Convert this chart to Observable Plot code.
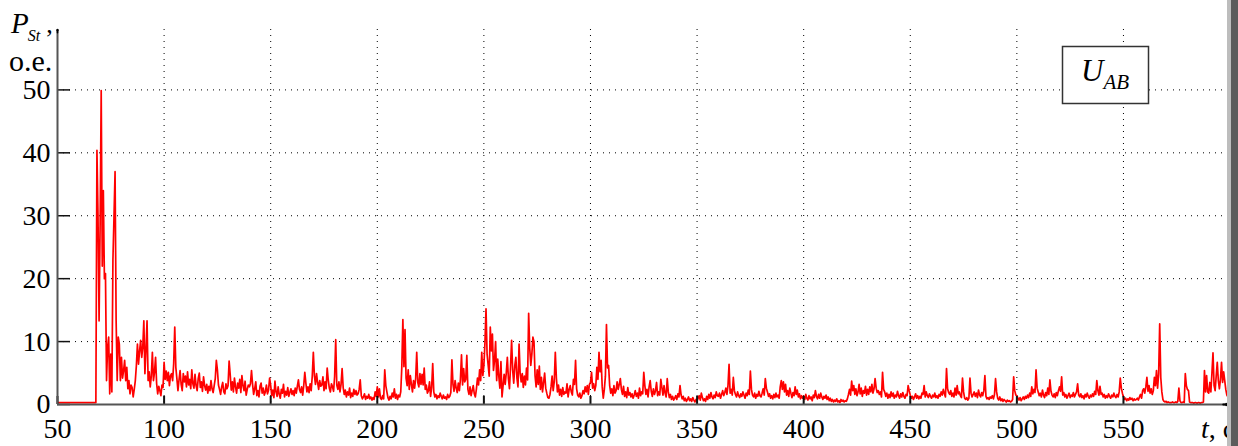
<!DOCTYPE html>
<html><head><meta charset="utf-8">
<script src="https://cdn.jsdelivr.net/npm/d3@7"></script>
<script src="https://cdn.jsdelivr.net/npm/@observablehq/plot@0.6"></script>
<style>
html,body{margin:0;padding:0;background:#fff;}
#chart{position:relative;width:1238px;height:446px;overflow:hidden;}
#chart svg{position:absolute;left:0;top:0;}
.edge1{position:absolute;left:1227px;top:0;width:4px;height:446px;background:#bdbdbd;}
.edge2{position:absolute;left:1231px;top:0;width:7px;height:446px;background:#5c5c5c;}
</style></head><body><div id="chart"></div>
<script>
// start time (s) of each 10-second block of samples, 0.5 s apart
const segmentStarts = [50,60,70,80,90,100,110,120,130,140,150,160,170,180,190,200,210,220,230,240,250,260,270,280,290,300,310,320,330,340,350,360,370,380,390,400,410,420,430,440,450,460,470,480,490,500,510,520,530,540,550,560,570,580,590];
const sampleStep = 0.5;
// P_St values (o.e.)
const segmentValues = [
[0.3,0.3,0.3,0.3,0.3,0.3,0.3,0.3,0.3,0.3,0.3,0.3,0.3,0.3,0.3,0.3,0.3,0.3,0.3,0.3],
[0.3,0.3,0.3,0.3,0.3,0.3,0.3,0.3,0.3,0.3,0.3,0.3,0.3,0.3,0.3,0.3,0.3,40.4,30,13.3],
[28.7,49.9,22,34,20,20.8,3.8,9.1,10.7,1.7,8,2,23,29.8,37,13.3,3.8,10.7,9.6,3.8],
[7.5,4.2,5.4,7,3.8,5.9,2.5,3.8,1.7,3.1,2.7,1.2,2.4,3.8,6.2,9.6,6.4,8.5,10.2,7.5],
[9.1,13.3,4.9,8.7,13.3,3.8,5.2,2.8,4.5,8.3,3.8,5.1,7.5,3.3,1.7,2.9,2.2,1.4,3.1,2.7],
[6.7,4.0,5.3,3.8,5.1,3.0,4.6,4.9,3.8,6.5,12.3,5.9,4.1,2.2,3.9,5.4,3.2,2.2,4.9,3.6],
[4.5,2.8,5.2,3.1,4.0,2.5,5.5,3.3,2.6,4.8,3.0,2.2,4.1,5.0,2.7,3.6,2.1,4.4,3.0,2.3],
[3.2,1.8,2.9,2.2,3.8,2.5,1.9,3.0,4.1,7.0,5.5,3.1,2.4,1.6,2.8,3.5,2.0,1.7,3.3,2.5],
[3.0,6.9,4.8,2.3,3.6,2.0,4.2,2.8,1.8,3.4,2.6,4.0,1.9,4.6,3.0,2.2,3.7,1.5,2.4,3.1],
[2.8,3.3,5.4,3.2,1.6,2.5,3.6,1.4,2.2,1.2,2.9,3.4,1.8,2.6,1.5,2.0,3.1,1.7,2.3,4.2],
[3.0,1.4,2.3,1.1,3.7,2.0,1.3,2.8,1.6,1.0,2.4,1.8,3.2,1.2,2.1,1.5,2.7,1.3,1.9,2.5],
[1.6,2.2,1.4,2.6,1.8,2.9,3.9,2.4,1.9,2.8,1.5,3.0,5.1,3.4,2.0,2.8,1.9,3.3,2.2,4.5],
[8.3,4.6,3.2,4.9,3.5,2.4,3.8,2.9,3.1,4.4,2.2,3.6,2.5,5.8,3.9,2.6,2.0,3.3,2.8,2.1],
[4.5,10.3,3.1,2.4,3.6,2.0,3.2,5.7,2.7,1.6,2.3,1.2,2.0,1.5,2.6,1.1,1.8,1.3,2.4,1.6],
[2.2,1.5,1.7,2.4,3.9,1.4,0.9,1.2,1.7,0.8,1.3,1.0,1.6,0.9,1.2,0.7,1.1,0.8,2.0,1.3],
[2.8,1.2,2.5,1.0,0.8,1.4,0.9,5.5,3.0,2.0,1.1,0.7,1.3,0.9,1.8,1.2,2.5,1.0,1.6,0.8],
[1.5,1.2,2.0,5.9,13.5,6.0,11.9,4.2,3.0,5.5,2.4,4.6,3.2,2.0,3.8,2.6,4.1,8.3,3.5,2.8],
[4.9,3.2,4.8,3.1,5.8,2.4,3.1,1.8,2.2,3.6,1.3,2.7,6.5,2.0,1.2,1.6,0.9,1.4,1.1,1.8],
[1.3,0.9,1.5,1.0,1.2,0.8,1.6,1.1,1.3,1.9,7.1,3.2,2.1,3.8,2.6,1.9,3.4,2.2,4.0,7.9],
[3.1,5.7,3.6,4.0,7.8,2.4,1.6,2.8,1.4,2.2,3.0,1.7,1.2,2.5,4.2,3.1,5.5,3.8,8.3,4.6],
[6.2,9.8,15.2,8.0,6.3,4.5,12.3,8.5,11.2,5.4,7.0,10.0,3.8,7.2,4.5,2.6,6.8,1.2,3.0,4.8],
[3.2,5.0,7.5,4.1,2.5,6.0,10.2,5.5,3.4,6.2,7.5,4.2,2.8,9.6,5.0,3.6,4.9,2.7,4.5,3.1],
[5.8,3.9,14.5,9.0,6.2,8.0,10.7,10.0,4.6,2.8,5.5,3.2,6.1,2.4,4.3,2.0,3.5,5.0,2.6,1.8],
[1.1,1.0,1.6,2.8,4.5,2.2,3.6,8.3,4.2,2.0,3.1,1.5,2.4,1.3,2.7,1.6,2.0,1.8,3.3,1.2],
[2.4,3.0,2.0,1.5,4.0,3.2,7.0,2.5,1.5,1.2,1.8,1.0,1.4,2.2,1.7,2.8,2.0,3.0,1.6,3.2],
[3.5,5.1,2.6,3.3,2.2,3.0,5.9,4.0,8.3,5.2,7.0,2.8,1.0,2.4,4.5,12.7,5.8,6.2,3.0,1.8],
[2.5,1.4,3.0,1.8,2.2,3.6,2.4,3.2,4.1,2.4,1.6,2.9,1.3,2.0,1.1,2.7,1.5,1.9,1.2,1.7],
[1.0,1.5,2.2,1.3,1.8,1.0,2.6,1.4,2.0,1.7,5.1,3.0,1.6,2.4,1.2,2.8,3.8,2.1,1.3,2.5],
[1.6,2.2,3.5,1.4,2.0,1.5,4.0,2.7,1.5,3.0,1.8,1.2,4.1,2.0,1.1,1.6,0.8,1.3,0.7,1.0],
[1.4,0.8,1.7,1.2,3.0,1.5,0.9,1.3,0.6,1.0,0.5,0.8,1.2,0.6,0.9,0.5,1.1,0.7,0.4,0.8],
[0.6,1.0,1.4,0.7,1.8,1.1,0.6,0.9,0.5,1.3,0.8,1.6,1.0,1.9,1.2,0.9,1.5,1.1,2.0,1.4],
[1.3,1.8,1.0,1.6,2.2,1.4,1.9,2.6,1.6,3.0,6.4,1.8,2.4,1.5,4.3,2.2,1.6,1.2,2.0,1.4],
[1.1,1.7,1.3,2.0,1.5,1.0,1.8,1.4,2.3,1.6,5.3,2.4,1.5,1.2,1.8,1.0,1.6,1.3,2.1,1.4],
[1.2,1.8,2.5,1.5,4.1,2.6,2.0,1.3,1.7,1.0,1.4,0.9,1.6,1.1,1.8,1.2,1.5,1.0,2.8,3.8],
[2.4,3.6,2.0,3.2,1.5,2.2,1.3,2.6,1.8,1.1,1.9,1.4,2.8,1.6,2.3,1.2,1.7,0.9,1.4,1.0],
[1.3,0.8,1.6,1.0,0.7,1.4,0.9,1.2,0.6,1.5,1.1,2.2,1.3,0.9,1.6,1.0,1.8,1.2,0.8,1.3],
[1.0,1.5,0.8,1.2,0.6,1.0,0.5,0.8,0.4,0.7,0.5,0.9,0.4,0.6,0.3,0.8,0.5,0.7,0.4,0.6],
[0.5,0.9,1.6,2.4,1.5,3.7,2.2,3.0,1.6,2.5,1.4,2.0,3.2,1.7,2.6,1.3,2.2,1.8,2.9,1.5],
[2.4,1.6,2.8,2.0,3.2,1.8,2.5,4.1,2.6,1.9,2.2,1.6,2.0,1.2,5.1,2.4,2.0,1.3,1.8,1.0],
[1.6,1.1,2.0,1.3,1.8,1.0,1.5,1.2,2.1,1.4,1.0,1.7,1.2,1.9,1.3,1.0,1.6,1.4,3.0,2.2],
[1.5,1.0,1.3,0.8,1.2,1.7,1.0,1.4,0.9,1.3,1.0,1.8,1.6,3.0,1.2,2.0,1.4,1.1,1.7,1.3],
[1.0,1.5,1.2,1.8,1.1,1.4,1.0,1.6,1.3,2.0,1.5,2.4,1.7,1.2,5.7,2.5,1.9,1.6,2.2,1.3],
[1.8,1.2,2.6,1.5,3.0,1.7,2.0,1.4,1.1,4.2,2.0,1.0,0.8,1.1,0.7,1.0,4.2,1.8,1.2,1.6],
[2.0,1.3,1.8,1.1,2.3,1.5,1.2,1.9,1.4,2.2,4.6,1.3,0.9,1.1,0.8,1.2,1.0,1.4,0.9,1.6],
[4.1,2.0,1.0,0.7,1.2,0.6,0.9,0.5,0.8,0.6,0.4,0.7,0.5,0.6,0.4,0.5,0.8,4.4,2.2,1.5],
[1.4,1.0,0.7,1.1,0.6,0.9,1.2,0.8,1.3,1.0,1.5,1.1,1.8,1.3,2.8,1.7,2.4,1.9,5.5,2.6],
[2.0,1.4,1.8,1.2,2.3,1.5,1.1,1.9,1.4,2.6,1.6,3.9,2.1,1.5,1.2,1.7,1.1,1.9,1.4,2.2],
[2.8,2.1,4.4,1.5,1.9,1.2,1.6,1.0,1.4,1.8,1.1,1.5,1.3,1.9,1.2,1.6,2.0,3.3,1.5,1.2],
[1.7,1.1,1.4,0.9,1.6,1.2,1.8,1.3,1.0,1.5,1.2,1.7,1.3,2.1,1.6,3.8,2.2,1.5,2.9,1.6],
[1.8,1.2,1.6,1.0,1.4,1.1,1.7,1.3,1.0,1.5,1.2,1.8,1.3,1.1,1.6,1.2,2.0,4.2,2.6,1.8],
[1.2,0.8,1.0,0.6,0.9,0.7,1.1,0.8,1.0,0.6,0.9,0.7,0.8,1.0,0.7,1.2,1.6,1.0,2.2,2.5],
[1.8,2.8,4.3,2.1,3.0,1.8,2.5,1.6,2.2,4.3,3.0,5.4,2.6,4.8,12.8,4.3,2.0,0.8,0.5,0.4],
[0.5,0.3,0.4,0.3,0.3,0.3,0.4,0.3,0.3,0.4,0.3,0.5,2.6,0.6,0.3,0.3,0.4,0.3,4.9,3.0],
[2.4,2.2,0.4,0.3,0.3,0.3,0.2,0.3,0.3,0.2,0.3,0.3,0.2,0.3,0.3,0.4,5.4,2.0,4.6,2.0],
[1.8,3.5,2.0,5.0,8.2,3.0,2.2,4.5,6.7,3.8,2.5,4.0,6.7,3.5,5.2,3.8,2.4,1.5,1.2,1.4]
];
const xTicks = [50,100,150,200,250,300,350,400,450,500,550];
const yTicks = [0,10,20,30,40,50];
const xDomain = [50, 598.8];
const yDomain = [0, 59.6];

const data = [];
segmentStarts.forEach((s, k) => segmentValues[k].forEach((v, i) => data.push({t: s + i * sampleStep, v})));

const W = 1238, H = 446, mL = 57, mR = 11, mT = 29, mB = 42;
const font = "'Liberation Serif','Times New Roman',serif";

const chart = Plot.plot({
  width: W, height: H, marginLeft: mL, marginRight: mR, marginTop: mT, marginBottom: mB,
  x: {domain: xDomain, axis: null},
  y: {domain: yDomain, axis: null},
  style: {background: "transparent", fontFamily: font, color: "#000", overflow: "visible"},
  marks: [
    Plot.ruleX(xTicks.filter(d => d > xDomain[0]), {stroke: "#000", strokeWidth: 1, strokeDasharray: "1,5"}),
    Plot.ruleY(yTicks.filter(d => d > yDomain[0]), {stroke: "#000", strokeWidth: 1, strokeDasharray: "1,5"}),
    Plot.line(data, {x: "t", y: "v", stroke: "#ff0000", strokeWidth: 1.7, strokeLinejoin: "round", clip: true}),
    Plot.tickY(yTicks, {stroke: "#111", strokeWidth: 1.5, insetRight: (W - mL - mR) - 13}),
    Plot.tickX(xTicks, {stroke: "#111", strokeWidth: 2, insetTop: (H - mT - mB) - 8}),
    Plot.ruleY([0], {stroke: "#555", strokeWidth: 2}),
    Plot.ruleX([xDomain[0]], {stroke: "#555", strokeWidth: 2}),
    Plot.arrow([0], {x1: xDomain[1] - 2, x2: xDomain[1], y1: 0, y2: 0, stroke: "#000", strokeWidth: 2, headLength: 7, headAngle: 50}),
    Plot.arrow([0], {x1: xDomain[0], x2: xDomain[0], y1: yDomain[1] - 0.5, y2: yDomain[1], stroke: "#000", strokeWidth: 1.6, headLength: 7, headAngle: 50}),
    Plot.text(yTicks, {x: xDomain[0], y: d => d, text: d => String(d), textAnchor: "end", dx: -7, fontSize: 28, fontFamily: font, fill: "#000"}),
    Plot.text(xTicks, {x: d => d, y: 0, text: d => String(d), textAnchor: "middle", dy: 25, fontSize: 28, fontFamily: font, fill: "#000"})
  ]
});

const host = document.getElementById("chart");
host.appendChild(chart);
const svg = d3.select(chart);

// y-axis title
const yt = svg.append("text").attr("x", 11).attr("y", 33).attr("text-anchor", "start").attr("font-family", font).attr("fill", "#000");
yt.append("tspan").attr("font-style", "italic").attr("font-size", 29).text("P");
yt.append("tspan").attr("font-style", "italic").attr("font-size", 16).attr("dy", 8).attr("dx", -1).text("St");
yt.append("tspan").attr("font-size", 26).attr("dy", -8).attr("dx", 6).text(",");
svg.append("text").attr("x", 9).attr("y", 71).attr("text-anchor", "start").attr("font-family", font).attr("font-size", 30).attr("fill", "#000").text("o.e.");

// x-axis title
const xt = svg.append("text").attr("x", 1201).attr("y", 438).attr("text-anchor", "start").attr("font-family", font).attr("font-size", 28).attr("fill", "#000");
xt.append("tspan").attr("font-style", "italic").text("t");
xt.append("tspan").text(", c");

// series label box
svg.append("rect").attr("x", 1062.5).attr("y", 46.5).attr("width", 86).attr("height", 57)
  .attr("fill", "#fff").attr("stroke", "#333").attr("stroke-width", 1.5);
const lt = svg.append("text").attr("x", 1081).attr("y", 81).attr("text-anchor", "start").attr("font-family", font).attr("fill", "#000");
lt.append("tspan").attr("font-style", "italic").attr("font-size", 31).text("U");
lt.append("tspan").attr("font-style", "italic").attr("font-size", 21).attr("dy", 8).text("AB");

const e1 = document.createElement("div"); e1.className = "edge1"; host.appendChild(e1);
const e2 = document.createElement("div"); e2.className = "edge2"; host.appendChild(e2);
</script>
</body></html>
